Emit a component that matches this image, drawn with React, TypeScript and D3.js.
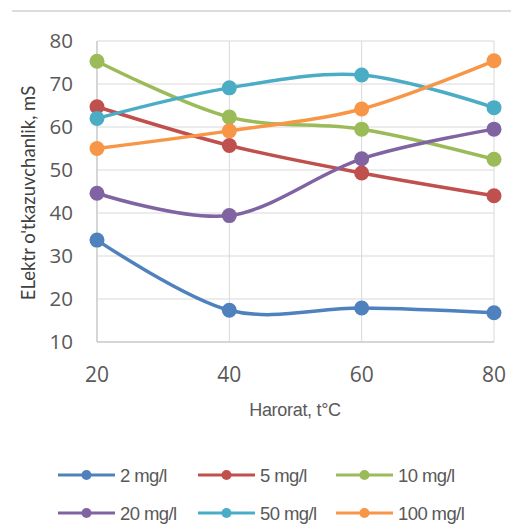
import React from "react";
import * as d3 from "d3";

const temperatures = [20, 40, 60, 80];
const seriesNames = ["2 mg/l", "5 mg/l", "10 mg/l", "20 mg/l", "50 mg/l", "100 mg/l"];
const s2 = [33.7, 17.4, 17.9, 16.8];
const s5 = [64.7, 55.7, 49.3, 44.0];
const s10 = [75.3, 62.3, 59.5, 52.5];
const s20 = [44.6, 39.4, 52.6, 59.5];
const s50 = [62.0, 69.1, 72.1, 64.5];
const s100 = [55.0, 59.1, 64.2, 75.4];
const seriesValues = [s2, s5, s10, s20, s50, s100];
const seriesColors = ["#4F81BD", "#C0504D", "#9BBB59", "#8064A2", "#4BACC6", "#F79646"];
const yTicks = [10, 20, 30, 40, 50, 60, 70, 80];
const xTicks = [20, 40, 60, 80];
const xTitle = "Harorat, t°C";
const yTitle = "ELektr o'tkazuvchanlik, mS";

const W = 511;
const H = 526;
const plot = { left: 97, right: 494, top: 41, bottom: 342 };

export default function App() {
  const x = d3.scaleLinear().domain([20, 80]).range([plot.left, plot.right]);
  const y = d3.scaleLinear().domain([10, 80]).range([plot.bottom, plot.top]);
  const line = d3
    .line<[number, number]>()
    .x((d) => x(d[0]))
    .y((d) => y(d[1]))
    .curve(d3.curveCardinal.tension(0));

  const grid = "#d9d9d9";
  const tickColor = "#595959";

  const legendCols = [58, 198, 336];
  const legendRows = [475, 513];

  return (
    <svg
      width={W}
      height={H}
      style={{ position: "absolute", left: 0, top: 0, background: "#fff" }}
    >
      <rect x={0} y={0} width={W} height={H} fill="#fff" />
      <line x1={12} x2={W} y1={11} y2={11} stroke="#dcdcdc" strokeWidth={2} />
      {yTicks.map((t) => (
        <line
          key={"gy" + t}
          x1={plot.left}
          x2={plot.right}
          y1={y(t)}
          y2={y(t)}
          stroke={grid}
          strokeWidth={1}
        />
      ))}
      {xTicks.map((t) => (
        <line
          key={"gx" + t}
          x1={x(t)}
          x2={x(t)}
          y1={plot.top}
          y2={plot.bottom}
          stroke={grid}
          strokeWidth={1}
        />
      ))}
      <line x1={plot.left} x2={plot.right} y1={plot.bottom} y2={plot.bottom} stroke="#bfbfbf" strokeWidth={1} />
      <line x1={plot.left} x2={plot.left} y1={plot.top} y2={plot.bottom} stroke="#bfbfbf" strokeWidth={1} />
      {yTicks.map((t) => (
        <text
          key={"ty" + t}
          x={73}
          y={y(t)}
          dy="0.36em"
          textAnchor="end"
          fontFamily="'Open Sans', sans-serif"
          fontSize={20.5}
          fill={tickColor}
        >
          {t}
        </text>
      ))}
      {xTicks.map((t) => (
        <text
          key={"tx" + t}
          x={x(t)}
          y={382}
          textAnchor="middle"
          fontFamily="'Open Sans', sans-serif"
          fontSize={21}
          fill={tickColor}
        >
          {t}
        </text>
      ))}
      <text
        x={295}
        y={416}
        textAnchor="middle"
        fontFamily="'Liberation Sans', Arial, sans-serif"
        fontSize={18}
        fill={tickColor}
        letterSpacing={-0.3}
      >
        {xTitle}
      </text>
      <text
        transform={`translate(35,${193}) rotate(-90)`}
        textAnchor="middle"
        fontFamily="Lato, sans-serif"
        fontSize={18.5}
        fill="#404040"
      >
        {yTitle}
      </text>
      {seriesValues.map((vals, i) => {
        const pts: [number, number][] = vals.map((v, j) => [temperatures[j], v]);
        return (
          <g key={"s" + i}>
            <path
              d={line(pts) || ""}
              fill="none"
              stroke={seriesColors[i]}
              strokeWidth={3.5}
              strokeLinecap="round"
            />
            {pts.map((p, j) => (
              <circle
                key={j}
                cx={x(p[0])}
                cy={y(p[1])}
                r={7.5}
                fill={seriesColors[i]}
              />
            ))}
          </g>
        );
      })}
      {seriesNames.map((name, i) => {
        const lx = legendCols[i % 3];
        const ly = legendRows[Math.floor(i / 3)];
        return (
          <g key={"l" + i}>
            <line x1={lx} x2={lx + 57} y1={ly} y2={ly} stroke={seriesColors[i]} strokeWidth={3} />
            <circle cx={lx + 28.5} cy={ly} r={5} fill={seriesColors[i]} />
            <text
              x={lx + 62}
              y={ly}
              dy="0.36em"
              fontFamily="'Liberation Sans', Arial, sans-serif"
              fontSize={18.5}
              fill={tickColor}
              letterSpacing={-0.6}
            >
              {name}
            </text>
          </g>
        );
      })}
    </svg>
  );
}
